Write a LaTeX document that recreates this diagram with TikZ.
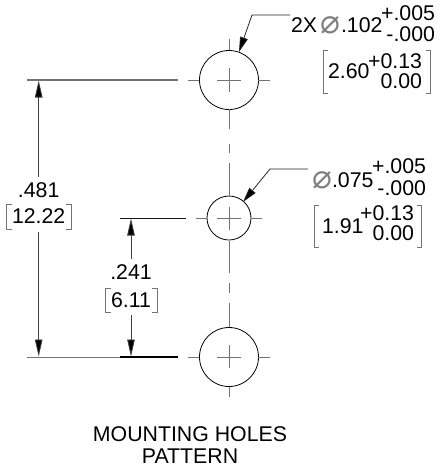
\documentclass[tikz,border=0pt]{standalone}
\usepackage{fontspec}
\setmainfont{Liberation Sans}
\newfontfamily\symfont{DejaVu Sans}
\usetikzlibrary{arrows.meta}
\tikzset{
 lbl/.style={inner sep=0pt,outer sep=0pt,font=\fontsize{21.3}{23}\selectfont,text=black},
 phi/.style={inner sep=0pt,outer sep=0pt,font=\fontsize{33}{33}\selectfont,text=black!50},
 hole/.style={draw=black,line width=0.8pt},
 ctr/.style={draw=black!55,line width=1pt},
 ext/.style={draw=black!55,line width=1.5pt},
 extthin/.style={draw=black!90,line width=0.8pt},
 dimarrow/.style={draw=black!75,line width=0.8pt,-{Triangle[length=17pt,width=7.5pt,fill=black]}},
 leader/.style={draw=black!85,line width=0.8pt,-{Triangle[length=15pt,width=8pt,fill=black]}},
 brk/.style={draw=black!55,line width=0.7pt},
}
\begin{document}
\begin{tikzpicture}[x=1pt,y=-1pt]
\useasboundingbox (0,0) rectangle (444,475);
% holes
\coordinate (ctop) at (229,80);
\coordinate (cmid) at (229,218);
\coordinate (cbot) at (229,357);
\draw[hole] (ctop) circle[radius=29.5];
\draw[hole] (cmid) circle[radius=22];
\draw[hole] (cbot) circle[radius=29.5];
% vertical centre line
\foreach \a/\b in {39/50,68/92,109/129,144/153,163/196,207/230,241/273,283/293,303/327,345/368,387/397}
  \draw[ctr] (229,\a) -- (229,\b);
% horizontal centre lines
\foreach \a/\b in {188/199,217/241,258/270} \draw[ctr] (\a,80) -- (\b,80);
\foreach \a/\b in {196/207,217/241,252/262} \draw[ctr] (\a,218) -- (\b,218);
\foreach \a/\b in {188/199,217/241,258/270} \draw[ctr] (\a,357) -- (\b,357);
% extension lines
\draw[ext] (27,80) -- (178,80);
\draw[extthin] (120,218) -- (186,218);
\draw[ctr] (27,357) -- (120,357);
\draw[draw=black,line width=1.5pt] (120,357) -- (178,357);
% dimension .481
\node[lbl,anchor=base] (d1) at (38.7,197) {.481};
\node[lbl,anchor=base] (d1m) at (38.7,223) {12.22};
\coordinate (d1a) at (38.7,177); \coordinate (d1at) at (38.7,80.5);
\coordinate (d1b) at (38.7,232); \coordinate (d1bt) at (38.7,356.5);
\draw[dimarrow] (d1a) -- (d1at);
\draw[dimarrow] (d1b) -- (d1bt);
\draw[brk] (12,204) -- (6.5,204) -- (6.5,229) -- (12,229);
\draw[brk] (65.5,204) -- (71,204) -- (71,229) -- (65.5,229);
% dimension .241
\node[lbl,anchor=base] (d2) at (131,279) {.241};
\node[lbl,anchor=base] (d2m) at (131,307) {6.11};
\coordinate (d2a) at (131,259); \coordinate (d2at) at (131,218.5);
\coordinate (d2b) at (131,315); \coordinate (d2bt) at (131,356.5);
\draw[dimarrow] (d2a) -- (d2at);
\draw[dimarrow] (d2b) -- (d2bt);
\draw[brk] (110.5,288) -- (105.5,288) -- (105.5,312) -- (110.5,312);
\draw[brk] (152,288) -- (157,288) -- (157,312) -- (152,312);
% top leader
\coordinate (l1a) at (290,15); \coordinate (l1b) at (252,15); \coordinate (l1c) at (239,52);
\draw[leader] (l1a) -- (l1b) -- (l1c);
\node[lbl,anchor=base west] (t1) at (291,32) {2X};
\node[phi,anchor=base] (p1) at (330.5,33) {\symfont ⌀};
\node[lbl,anchor=base west] (t2) at (341,32) {.102};
\node[lbl,anchor=base east] (t3) at (435,20) {+.005};
\node[lbl,anchor=base east] (t4) at (435,41) {-.000};
\node[lbl,anchor=base west] (t5) at (328,78) {2.60};
\node[lbl,anchor=base east] (t6) at (422,68) {+0.13};
\node[lbl,anchor=base east] (t7) at (422,88) {0.00};
\draw[brk] (328,50) -- (323.5,50) -- (323.5,93) -- (328,93);
\draw[brk] (425.5,50) -- (430,50) -- (430,93) -- (425.5,93);
% middle leader
\coordinate (l2a) at (308,169); \coordinate (l2b) at (270,169); \coordinate (l2c) at (243,202);
\draw[leader] (l2a) -- (l2b) -- (l2c);
\node[phi,anchor=base] (p2) at (322,188) {\symfont ⌀};
\node[lbl,anchor=base west] (m2) at (332,187) {.075};
\node[lbl,anchor=base east] (m3) at (426,173) {+.005};
\node[lbl,anchor=base east] (m4) at (426,195) {-.000};
\node[lbl,anchor=base west] (m5) at (322,233) {1.91};
\node[lbl,anchor=base east] (m6) at (414,220) {+0.13};
\node[lbl,anchor=base east] (m7) at (414,240) {0.00};
\draw[brk] (319,205) -- (314.5,205) -- (314.5,247) -- (319,247);
\draw[brk] (416.5,205) -- (421,205) -- (421,247) -- (416.5,247);
% caption
\node[lbl,anchor=base] (c1) at (190,441) {MOUNTING HOLES};
\node[lbl,anchor=base] (c2) at (190,463) {PATTERN};
\end{tikzpicture}
\end{document}
